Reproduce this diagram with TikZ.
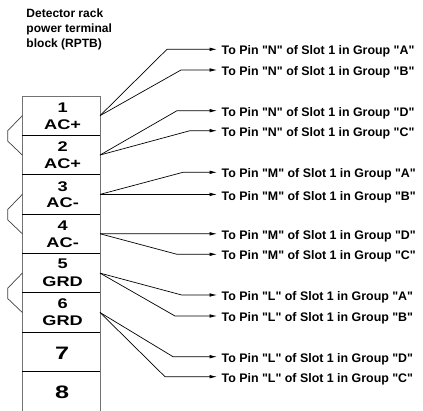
\documentclass[tikz,border=0pt]{standalone}
\usepackage{fontspec}
\newfontfamily\arial{Liberation Sans}
\usepackage{graphicx}
\usetikzlibrary{arrows.meta}
\newcommand{\stx}[2]{\scalebox{#1}[1]{#2}}
\tikzset{
  cell/.style={minimum width=77.7pt, minimum height=39.36pt, inner sep=0pt, outer sep=0pt},
  wire/.style={line width=0.7pt, black},
  bracket/.style={line width=0.7pt, black!75},
  feed/.style={wire, -{Latex[length=7.5pt,width=3.6pt]}},
  boxline/.style={line width=0.9pt, black!55},
  divider/.style={line width=0.8pt, black},
  numtxt/.style={inner sep=0pt, font=\arial\fontsize{14}{16}\selectfont\bfseries},
  bigtxt/.style={inner sep=0pt, font=\arial\fontsize{18}{20}\selectfont\bfseries},
  lbl/.style={inner sep=0pt, anchor=base west, font=\arial\fontsize{12.4}{14}\selectfont\bfseries},
  ttl/.style={inner sep=0pt, anchor=north west, align=left, font=\arial\fontsize{12}{15}\selectfont\bfseries}
}
\begin{document}
\begin{tikzpicture}[x=1pt,y=-1pt]
\useasboundingbox (0,0) rectangle (423,411);
% title
\node[ttl] (title) at (26.3,8.6) {Detector rack\\power terminal\\block (RPTB)};
% cells
\node[cell] (c1) at (61.15,115.68) {};
\node[cell] (c2) at (61.15,155.04) {};
\node[cell] (c3) at (61.15,194.40) {};
\node[cell] (c4) at (61.15,233.76) {};
\node[cell] (c5) at (61.15,273.12) {};
\node[cell] (c6) at (61.15,312.48) {};
\node[cell] (c7) at (61.15,351.84) {};
\node[cell] (c8) at (61.15,391.20) {};
% outline and dividers
\draw[boxline] (c8.south west) -- (c1.north west) -- (c1.north east) -- (c8.south east);
\foreach \k in {1,...,7}{\draw[divider] (c\k.south west) -- (c\k.south east);}
% cell texts
\node[numtxt] (n1) at ([xshift=1.5pt,yshift=-11.5pt]c1.north) {\stx{1.3}{1}};
\node[numtxt] (a1) at ([xshift=1.5pt,yshift=-28.3pt]c1.north) {\stx{1.3}{AC+}};
\node[numtxt] (n2) at ([xshift=1.5pt,yshift=-11.5pt]c2.north) {\stx{1.3}{2}};
\node[numtxt] (a2) at ([xshift=1.5pt,yshift=-28.3pt]c2.north) {\stx{1.3}{AC+}};
\node[numtxt] (n3) at ([xshift=1.5pt,yshift=-11.5pt]c3.north) {\stx{1.3}{3}};
\node[numtxt] (a3) at ([xshift=1.5pt,yshift=-28.3pt]c3.north) {\stx{1.3}{AC-}};
\node[numtxt] (n4) at ([xshift=1.5pt,yshift=-11.5pt]c4.north) {\stx{1.3}{4}};
\node[numtxt] (a4) at ([xshift=1.5pt,yshift=-28.3pt]c4.north) {\stx{1.3}{AC-}};
\node[numtxt] (n5) at ([xshift=1.5pt,yshift=-10.5pt]c5.north) {\stx{1.3}{5}};
\node[numtxt] (a5) at ([xshift=1.5pt,yshift=-28.3pt]c5.north) {\stx{1.3}{GRD}};
\node[numtxt] (n6) at ([xshift=1.5pt,yshift=-10.5pt]c6.north) {\stx{1.3}{6}};
\node[numtxt] (a6) at ([xshift=1.5pt,yshift=-28.3pt]c6.north) {\stx{1.3}{GRD}};
\node[bigtxt] (n7) at ([xshift=1pt,yshift=-1pt]c7.center) {\stx{1.4}{7}};
\node[bigtxt] (n8) at ([xshift=1pt,yshift=-1.5pt]c8.center) {\stx{1.4}{8}};
% brackets on the left
\draw[bracket] (c1.west) -- ++(-14.5,15) -- ++(0,10.5) -- (c2.west);
\draw[bracket] (c3.west) -- ++(-14.5,15) -- ++(0,10.5) -- (c4.west);
\draw[bracket] (c5.west) -- ++(-14.5,15) -- ++(0,10.5) -- (c6.west);
% arrow tips
\coordinate (r1) at (217,49.3);
\coordinate (r2) at (217,70.0);
\coordinate (r3) at (217,110.7);
\coordinate (r4) at (217,130.7);
\coordinate (r5) at (217,172.3);
\coordinate (r6) at (217,194.4);
\coordinate (r7) at (217,233.8);
\coordinate (r8) at (217,254.3);
\coordinate (r9) at (217,295.0);
\coordinate (r10) at (217,316.0);
\coordinate (r11) at (217,356.7);
\coordinate (r12) at (217,376.7);
% connectors
\draw[feed] (c1.east) -- (167,49.3) -- (r1);
\draw[feed] (c1.east) -- (181,70.0) -- (r2);
\draw[feed] (c2.east) -- (177,110.7) -- (r3);
\draw[feed] (c2.east) -- (190,130.7) -- (r4);
\draw[feed] (c3.east) -- (183,172.3) -- (r5);
\draw[feed] (c3.east) -- (r6);
\draw[feed] (c4.east) -- (r7);
\draw[feed] (c4.east) -- (177,254.3) -- (r8);
\draw[feed] (c5.east) -- (181.7,295.0) -- (r9);
\draw[feed] (c5.east) -- (175,316.0) -- (r10);
\draw[feed] (c6.east) -- (173,356.7) -- (r11);
\draw[feed] (c6.east) -- (165,376.7) -- (r12);
% labels
\node[lbl] (L1) at ([xshift=4.5pt,yshift=-5.7pt]r1) {To Pin "N" of Slot 1 in Group "A"};
\node[lbl] (L2) at ([xshift=4.5pt,yshift=-5.7pt]r2) {To Pin "N" of Slot 1 in Group "B"};
\node[lbl] (L3) at ([xshift=4.5pt,yshift=-5.7pt]r3) {To Pin "N" of Slot 1 in Group "D"};
\node[lbl] (L4) at ([xshift=4.5pt,yshift=-5.7pt]r4) {To Pin "N" of Slot 1 in Group "C"};
\node[lbl] (L5) at ([xshift=4.5pt,yshift=-5.7pt]r5) {To Pin "M" of Slot 1 in Group "A"};
\node[lbl] (L6) at ([xshift=4.5pt,yshift=-5.7pt]r6) {To Pin "M" of Slot 1 in Group "B"};
\node[lbl] (L7) at ([xshift=4.5pt,yshift=-5.7pt]r7) {To Pin "M" of Slot 1 in Group "D"};
\node[lbl] (L8) at ([xshift=4.5pt,yshift=-5.7pt]r8) {To Pin "M" of Slot 1 in Group "C"};
\node[lbl] (L9) at ([xshift=4.5pt,yshift=-5.7pt]r9) {To Pin "L" of Slot 1 in Group "A"};
\node[lbl] (L10) at ([xshift=4.5pt,yshift=-5.7pt]r10) {To Pin "L" of Slot 1 in Group "B"};
\node[lbl] (L11) at ([xshift=4.5pt,yshift=-5.7pt]r11) {To Pin "L" of Slot 1 in Group "D"};
\node[lbl] (L12) at ([xshift=4.5pt,yshift=-5.7pt]r12) {To Pin "L" of Slot 1 in Group "C"};
\end{tikzpicture}
\end{document}
